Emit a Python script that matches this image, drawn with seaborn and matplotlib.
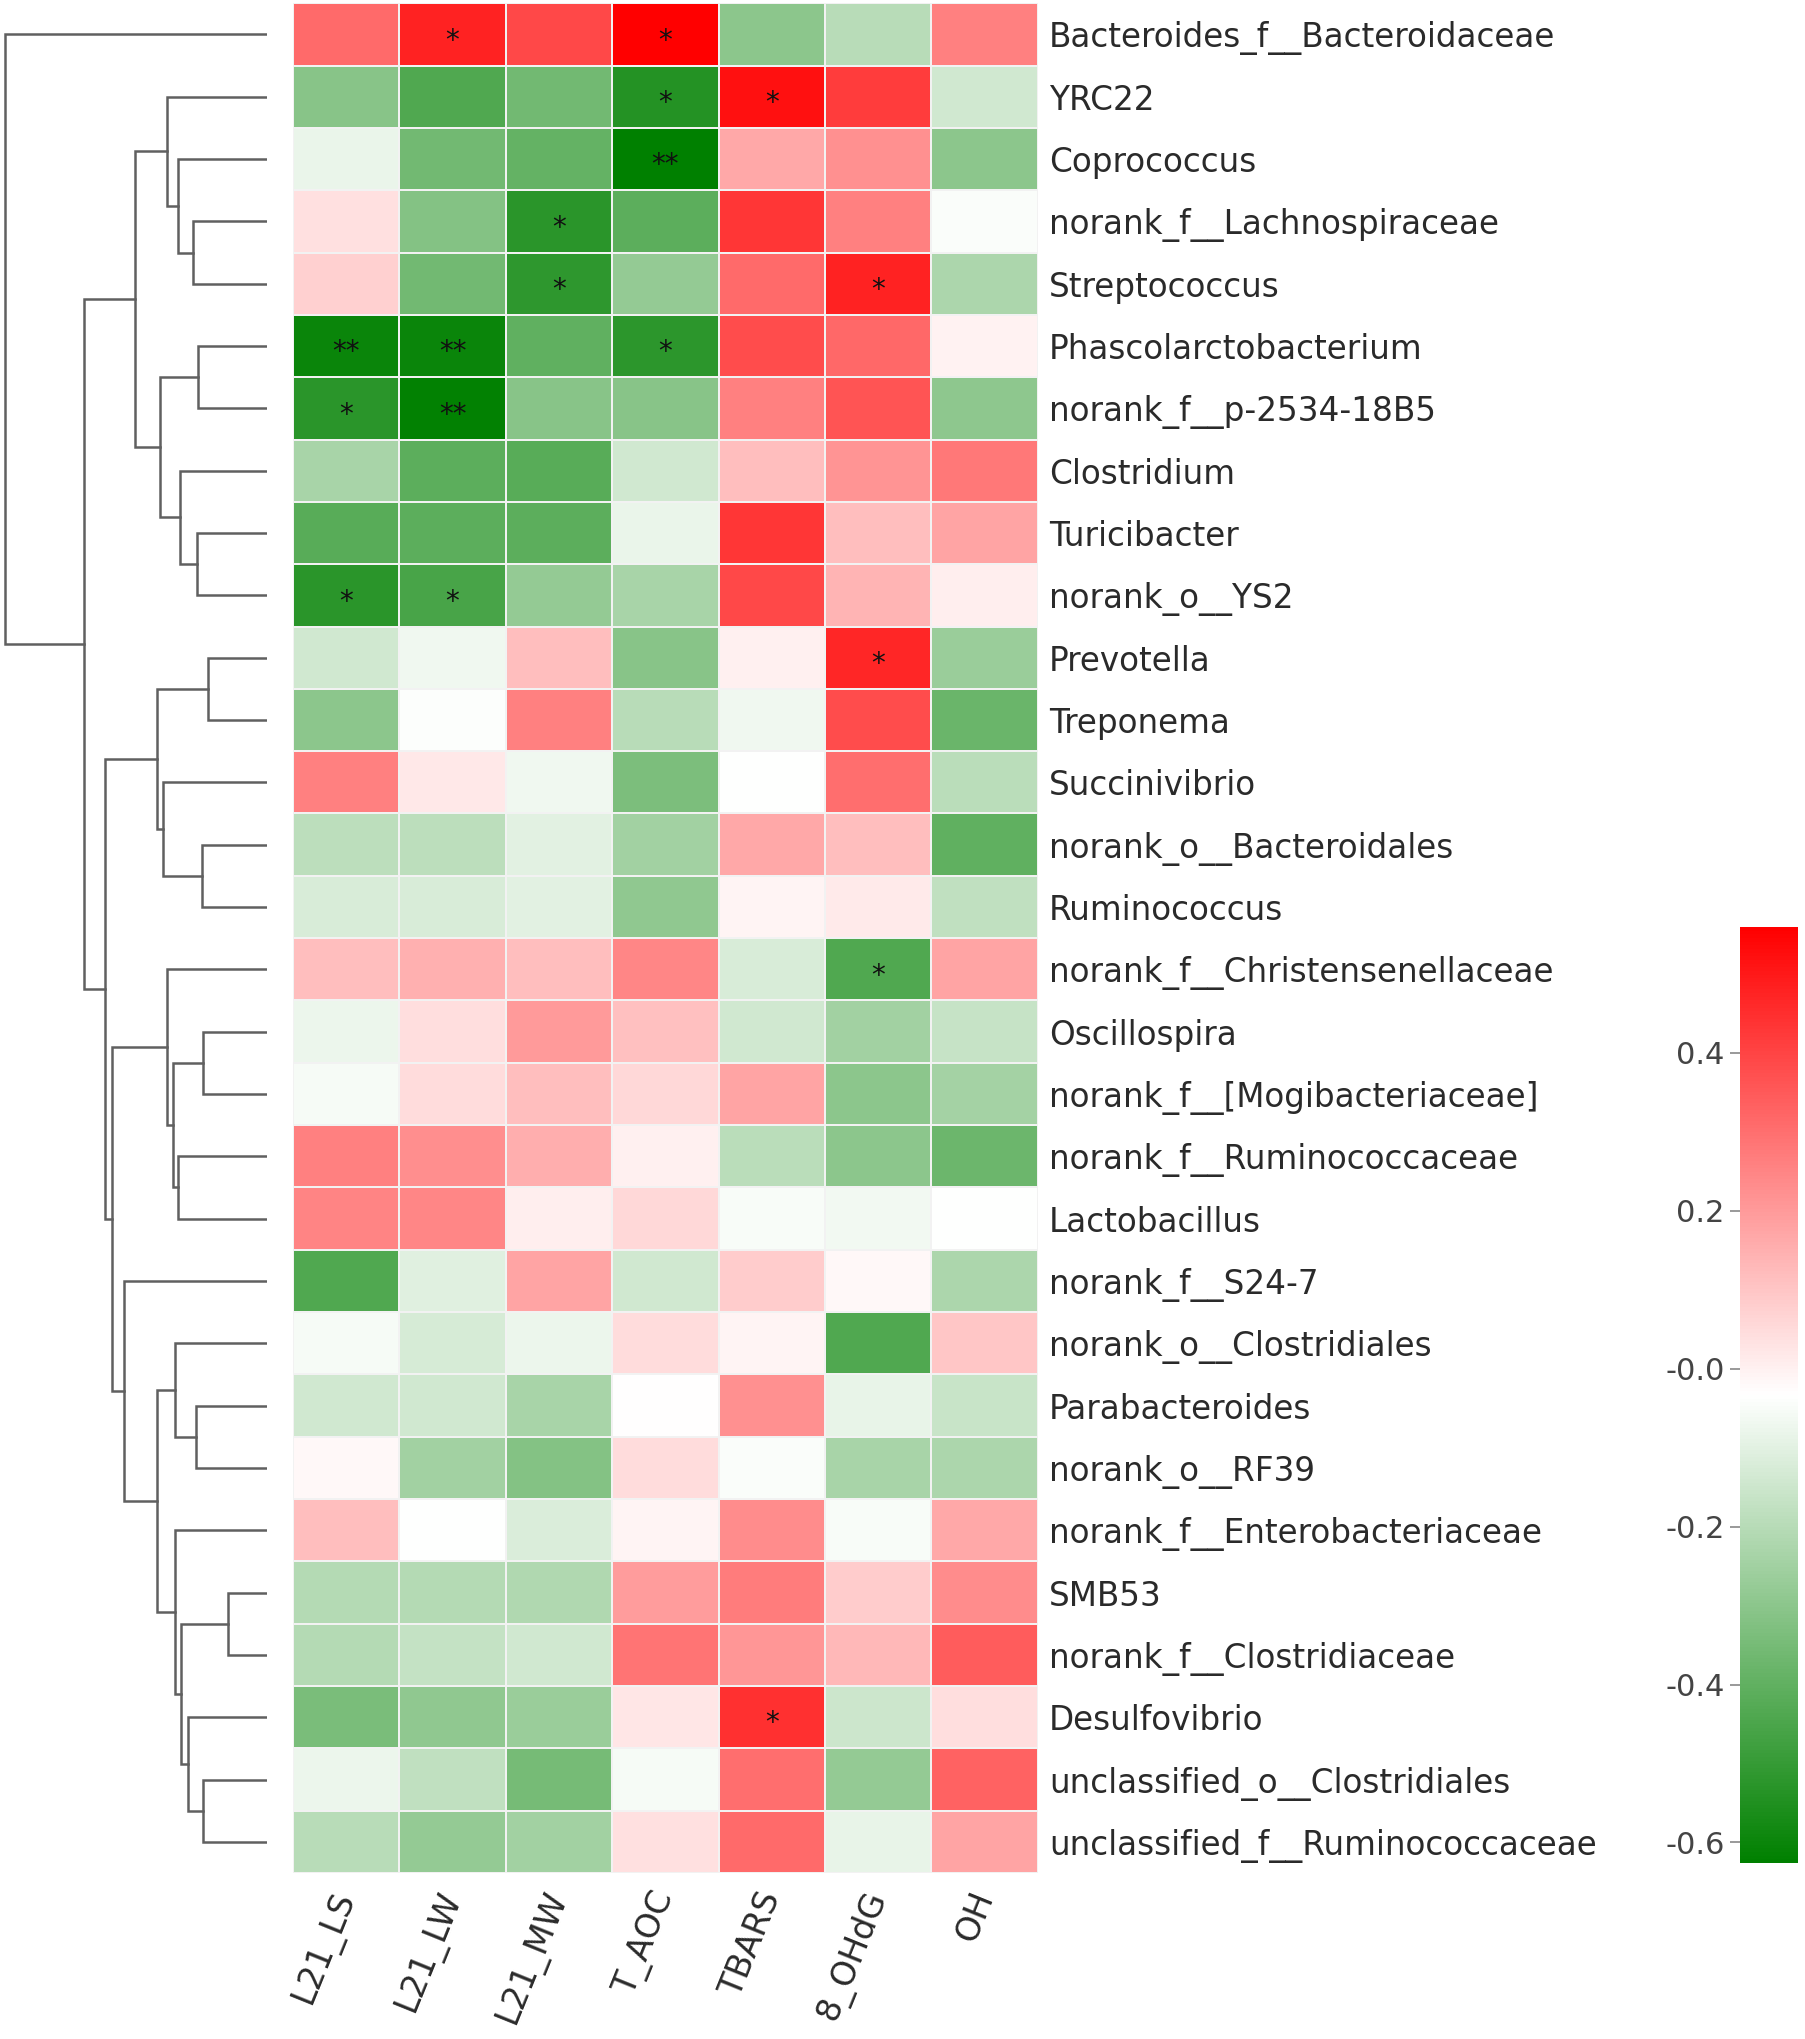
import pandas as pd
import matplotlib
matplotlib.use("Agg")
import matplotlib.pyplot as plt
from matplotlib.colors import LinearSegmentedColormap
import seaborn as sns

# taxa (rows, top to bottom) and environmental factors (columns)
taxa = [
    "Bacteroides_f__Bacteroidaceae", "YRC22", "Coprococcus", "norank_f__Lachnospiraceae",
    "Streptococcus", "Phascolarctobacterium", "norank_f__p-2534-18B5", "Clostridium",
    "Turicibacter", "norank_o__YS2", "Prevotella", "Treponema", "Succinivibrio",
    "norank_o__Bacteroidales", "Ruminococcus", "norank_f__Christensenellaceae",
    "Oscillospira", "norank_f__[Mogibacteriaceae]", "norank_f__Ruminococcaceae",
    "Lactobacillus", "norank_f__S24-7", "norank_o__Clostridiales", "Parabacteroides",
    "norank_o__RF39", "norank_f__Enterobacteriaceae", "SMB53", "norank_f__Clostridiaceae",
    "Desulfovibrio", "unclassified_o__Clostridiales", "unclassified_f__Ruminococcaceae",
]
factors = ["L21_LS", "L21_LW", "L21_MW", "T_AOC", "TBARS", "8_OHdG", "OH"]

# correlation coefficients, one list per factor
l21_ls = [0.31, -0.31, -0.08, 0.037, 0.073, -0.60, -0.525, -0.235, -0.42, -0.525,
          -0.14, -0.30, 0.26, -0.19, -0.125, 0.115, -0.076, -0.055, 0.26, 0.25,
          -0.44, -0.055, -0.14, -0.016, 0.115, -0.207, -0.207, -0.34, -0.076, -0.20]
l21_lw = [0.48, -0.44, -0.36, -0.32, -0.36, -0.60, -0.62, -0.41, -0.41, -0.455,
          -0.07, -0.04, 0.02, -0.19, -0.125, 0.15, 0.043, 0.049, 0.228, 0.245,
          -0.105, -0.13, -0.14, -0.25, -0.034, -0.207, -0.17, -0.29, -0.18, -0.28]
l21_mw = [0.39, -0.36, -0.39, -0.525, -0.515, -0.40, -0.31, -0.42, -0.41, -0.28,
          0.115, 0.26, -0.07, -0.10, -0.10, 0.115, 0.20, 0.115, 0.155, 0.007,
          0.175, -0.076, -0.235, -0.32, -0.12, -0.218, -0.14, -0.265, -0.35, -0.25]
t_aoc = [0.559, -0.54, -0.626, -0.41, -0.28, -0.52, -0.31, -0.14, -0.08, -0.235,
         -0.31, -0.20, -0.335, -0.25, -0.29, 0.245, 0.11, 0.055, 0.0, 0.055,
         -0.14, 0.049, -0.032, 0.049, -0.01, 0.197, 0.287, 0.025, -0.055, 0.037]
tbars = [-0.30, 0.52, 0.17, 0.43, 0.31, 0.38, 0.26, 0.115, 0.43, 0.39,
         0.002, -0.07, -0.034, 0.17, -0.01, -0.125, -0.14, 0.175, -0.195, -0.05,
         0.085, -0.01, 0.225, -0.045, 0.233, 0.27, 0.21, 0.447, 0.30, 0.31]
ohdg = [-0.20, 0.42, 0.225, 0.26, 0.48, 0.315, 0.36, 0.215, 0.115, 0.14,
        0.47, 0.38, 0.30, 0.115, 0.013, -0.44, -0.25, -0.30, -0.30, -0.063,
        -0.016, -0.44, -0.087, -0.235, -0.05, 0.085, 0.133, -0.152, -0.28, -0.087]
oh = [0.26, -0.14, -0.30, -0.045, -0.225, -0.005, -0.295, 0.28, 0.175, 0.008,
      -0.265, -0.38, -0.195, -0.40, -0.18, 0.175, -0.165, -0.245, -0.375, -0.034,
      -0.225, 0.10, -0.16, -0.225, 0.17, 0.233, 0.345, 0.043, 0.33, 0.175]

# significance marks: (row, column, label)
stars = [(0, 1, "*"), (0, 3, "*"), (1, 3, "*"), (1, 4, "*"), (2, 3, "**"),
         (3, 2, "*"), (4, 2, "*"), (4, 5, "*"), (5, 0, "**"), (5, 1, "**"),
         (5, 3, "*"), (6, 0, "*"), (6, 1, "**"), (9, 0, "*"), (9, 1, "*"),
         (10, 5, "*"), (15, 5, "*"), (27, 4, "*")]

# row dendrogram as linkage: (child_a, child_b, height); leaves 0-29, merges 30+
merges = [
    (3, 4, 0.283), (2, 30, 0.338), (1, 31, 0.382), (5, 6, 0.261), (8, 9, 0.268),
    (7, 34, 0.331), (33, 35, 0.408), (32, 36, 0.503), (10, 11, 0.223), (13, 14, 0.248),
    (12, 39, 0.395), (38, 40, 0.420), (16, 17, 0.245), (18, 19, 0.338), (42, 43, 0.357),
    (15, 44, 0.382), (22, 23, 0.270), (21, 46, 0.350), (25, 26, 0.146), (28, 29, 0.245),
    (27, 49, 0.302), (48, 50, 0.327), (24, 51, 0.352), (47, 52, 0.418), (20, 53, 0.545),
    (45, 54, 0.592), (41, 55, 0.618), (37, 56, 0.700), (0, 57, 1.000),
]

cbar_ticks = [-0.6, -0.4, -0.2, 0.0, 0.2, 0.4]
cbar_labels = ["-0.6", "-0.4", "-0.2", "-0.0", "0.2", "0.4"]

df = pd.DataFrame({"L21_LS": l21_ls, "L21_LW": l21_lw, "L21_MW": l21_mw, "T_AOC": t_aoc,
                   "TBARS": tbars, "8_OHdG": ohdg, "OH": oh}, index=taxa)[factors]

plt.rcParams["font.family"] = ["DejaVu Sans"]
plt.rcParams["axes.unicode_minus"] = False

fig = plt.figure(figsize=(18.05, 20.39), dpi=100)
ax_heat = fig.add_axes([0.1623, 0.0814, 0.4127, 0.917])
ax_den = fig.add_axes([0.0017, 0.0814, 0.146, 0.917])
ax_cbar = fig.add_axes([0.964, 0.0863, 0.032, 0.459])

cmap = LinearSegmentedColormap.from_list("gwr", ["#008000", "#ffffff", "#ff0000"])
sns.heatmap(df, cmap=cmap, ax=ax_heat, cbar_ax=ax_cbar, linewidths=1.2,
            linecolor="#f2f2f2", xticklabels=True, yticklabels=True)

for r, c, lab in stars:
    ax_heat.text(c + 0.5, r + 0.6, lab, ha="center", va="center",
                 fontsize=20, color="#111111")

ax_heat.yaxis.tick_right()
ax_heat.set_yticklabels(taxa, rotation=0, fontsize=23.5, color="#2a2a2a")
ax_heat.tick_params(axis="y", length=0, pad=8)
ax_heat.set_xticklabels(factors, rotation=68, ha="right", va="center",
                        rotation_mode="anchor", fontsize=24, color="#2a2a2a")
ax_heat.tick_params(axis="x", length=0, pad=14)
ax_heat.set_xlabel("")
ax_heat.set_ylabel("")

# colorbar
ax_cbar.yaxis.set_ticks_position("left")
ax_cbar.set_yticks(cbar_ticks)
ax_cbar.set_yticklabels(cbar_labels)
ax_cbar.tick_params(axis="y", labelsize=22, labelcolor="#444444", color="#888888",
                    length=7, width=1.2, pad=4)

# dendrogram from the linkage list
n = len(taxa)
ypos = {i: i + 0.5 for i in range(n)}
hgt = {i: 0.0 for i in range(n)}
for k, (a, b, h) in enumerate(merges):
    node = n + k
    ya, yb = ypos[a], ypos[b]
    ax_den.plot([hgt[a], h, h, hgt[b]], [ya, ya, yb, yb], color="#606060",
                lw=1.8, solid_joinstyle="miter")
    ypos[node] = (ya + yb) / 2
    hgt[node] = h
ax_den.set_ylim(n, 0)
ax_den.set_xlim(1.008, 0)
ax_den.axis("off")

fig.savefig("out.png", dpi=100)
